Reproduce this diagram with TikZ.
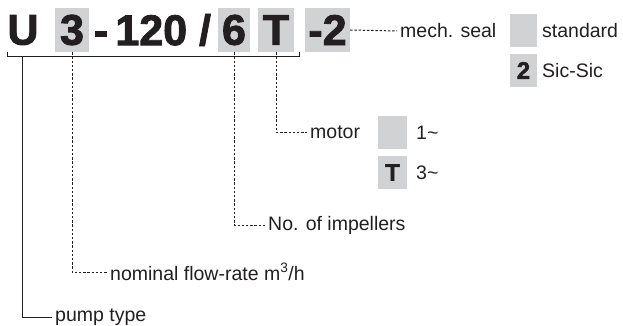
\documentclass[tikz,border=0pt]{standalone}
\usepackage{fontspec}
\setmainfont{Liberation Sans}
\newfontfamily\heavyfont{Liberation Sans}[UprightFont=*-Bold,FakeBold=2]
\newlength{\du}
\setlength{\du}{1pt}
\definecolor{boxgray}{RGB}{209,210,212}
\definecolor{inkblack}{RGB}{35,31,32}
\tikzset{
  big/.style={inner sep=0pt,text=inkblack,font=\fontsize{43}{43}\heavyfont},
  bigbox/.style={big,fill=boxgray,minimum height=44\du},
  keybox/.style={inner sep=0pt,fill=boxgray,text=inkblack,minimum height=33\du,
    font=\fontsize{24}{24}\heavyfont},
  lbl/.style={anchor=west,inner sep=0pt,inner xsep=3\du,text=inkblack,font=\fontsize{19.5}{21}\selectfont},
  dashln/.style={draw=inkblack,line width=1pt,dash pattern=on 2.4pt off 1.8pt},
  solidln/.style={draw=inkblack,line width=1pt}
}
\begin{document}
\begin{tikzpicture}
\pgftransformxscale{1.000000}
\pgftransformyscale{-1.000000}
\useasboundingbox (0,0) rectangle (623\du,326\du);

% type code
\node[big] (gU) at (23\du,30\du) {U};
\node[bigbox,minimum width=34\du] (b3) at (72\du,30\du) {3};
\node[big] (g120) at (152.5\du,30\du) {-\,120 /};
\node[bigbox,minimum width=32\du] (b6) at (234\du,30\du) {6};
\node[bigbox,minimum width=36\du] (bT) at (276\du,30\du) {T};
\node[bigbox,minimum width=45\du] (b2) at (327.5\du,30\du) {-2};

% bracket
\coordinate (brL) at (7\du,52\du);
\coordinate (brR) at (299\du,52\du);
\coordinate (brU) at (22\du,57\du);
\draw[solidln] (brL) -- ++(0,5\du) -| (brR);

% mech. seal
\node[lbl] (seal) at (397\du,31\du) {mech. seal};
\node[keybox,minimum width=27\du] (kStd) at (523.5\du,30.5\du) {};
\node[lbl] (std) at (539\du,30.5\du) {standard};
\node[keybox,minimum width=27\du] (kSic) at (523.5\du,70.5\du) {2};
\node[lbl] (sic) at (539\du,70.5\du) {Sic-Sic};

% motor
\node[lbl] (motor) at (307\du,132\du) {motor};
\node[keybox,minimum width=29\du] (kOne) at (392.5\du,132.5\du) {};
\node[lbl] (one) at (413\du,132.5\du) {1\textasciitilde};
\node[keybox,minimum width=29\du] (kThree) at (392.5\du,172.5\du) {T};
\node[lbl] (three) at (413\du,172.5\du) {3\textasciitilde};

% lower labels
\node[lbl] (imp) at (265\du,225\du) {No. of impellers};
\node[lbl] (flow) at (107\du,272\du) {nominal flow-rate m\textsuperscript{3}/h};
\node[lbl] (pump) at (52\du,317\du) {pump type};

% leaders
\draw[dashln] (b2.east) -- (seal.west);
\draw[dashln] (bT.south) |- (motor.west);
\draw[dashln] (b6.south) |- (imp.west);
\draw[dashln] (b3.south) |- (flow.west);
\draw[solidln] (brU) |- (pump.west);

\end{tikzpicture}
\end{document}
